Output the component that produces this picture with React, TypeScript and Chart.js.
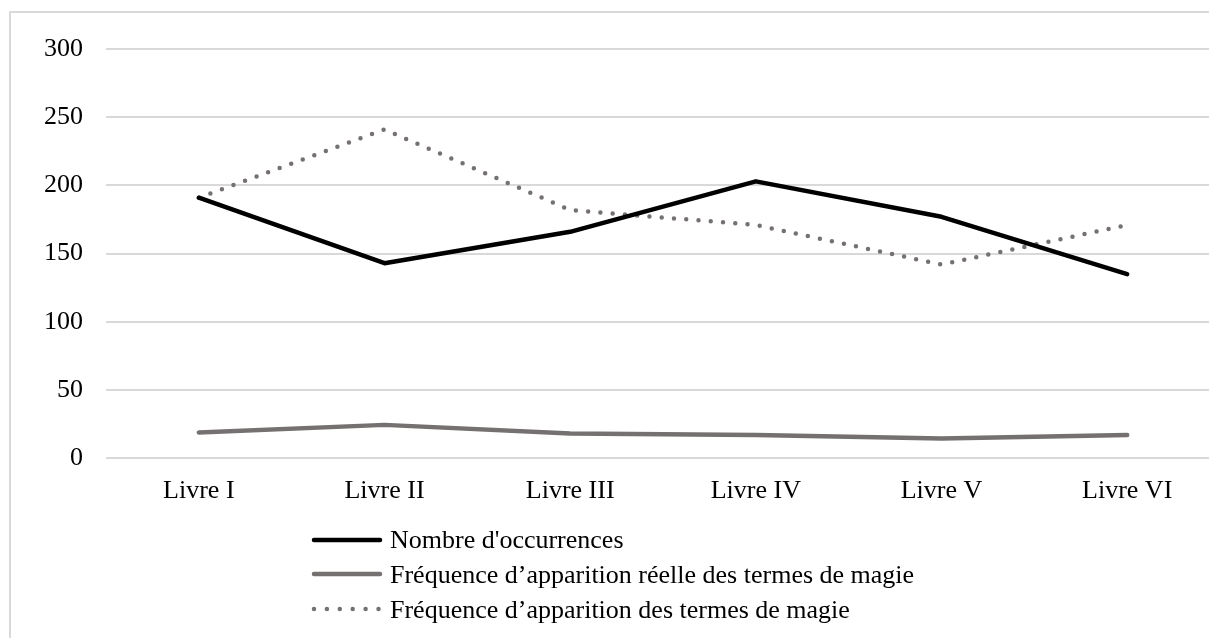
import React, { useEffect, useRef } from "react";
import { Chart, registerables } from "chart.js";

Chart.register(...registerables);

const categories = ["Livre I", "Livre II", "Livre III", "Livre IV", "Livre V", "Livre VI"];
const nombreOccurrences = [191, 143, 166, 203, 177, 135];
const frequenceReelle = [19, 24.5, 18.2, 17, 14.5, 17];
const frequenceApparition = [191, 241, 182, 171, 142, 171];
const seriesLabels = [
  "Nombre d'occurrences",
  "Fréquence d’apparition réelle des termes de magie",
  "Fréquence d’apparition des termes de magie",
];
const yTicks = [0, 50, 100, 150, 200, 250, 300];

const FONT = "'Liberation Serif', 'Times New Roman', serif";
const BLACK = "#000000";
const GRAY = "#767171";

export default function App() {
  const canvasRef = useRef<HTMLCanvasElement | null>(null);

  useEffect(() => {
    const canvas = canvasRef.current;
    if (!canvas) return;
    const chart = new Chart(canvas, {
      type: "line",
      data: {
        labels: categories,
        datasets: [
          {
            label: seriesLabels[0],
            data: nombreOccurrences,
            borderColor: BLACK,
            backgroundColor: BLACK,
            borderWidth: 4.5,
            pointRadius: 0,
            tension: 0,
            borderCapStyle: "round",
            borderJoinStyle: "round",
          },
          {
            label: seriesLabels[1],
            data: frequenceReelle,
            borderColor: GRAY,
            backgroundColor: GRAY,
            borderWidth: 4.5,
            pointRadius: 0,
            tension: 0,
            borderCapStyle: "round",
            borderJoinStyle: "round",
          },
          {
            label: seriesLabels[2],
            data: frequenceApparition,
            borderColor: GRAY,
            backgroundColor: GRAY,
            borderWidth: 4.5,
            pointRadius: 0,
            tension: 0,
            borderCapStyle: "round",
            borderJoinStyle: "round",
            borderDash: [0, 12.3],
          },
        ],
      },
      options: {
        animation: false,
        responsive: false,
        devicePixelRatio: 1,
        layout: { padding: { left: 0, top: 49, right: 10, bottom: 121.5 } },
        plugins: {
          legend: { display: false },
          tooltip: { enabled: false },
        },
        scales: {
          x: {
            type: "category",
            offset: true,
            grid: { display: false },
            border: { display: false },
            ticks: {
              color: BLACK,
              font: { family: FONT, size: 26 },
              padding: 9.5,
              maxRotation: 0,
              autoSkip: false,
            },
          },
          y: {
            min: yTicks[0],
            max: yTicks[yTicks.length - 1],
            afterBuildTicks: (scale: any) => {
              scale.ticks = yTicks.map((v) => ({ value: v }));
            },
            afterFit: (scale: any) => {
              scale.width = 106;
            },
            grid: { color: "#d9d9d9", lineWidth: 2, drawTicks: false },
            border: { display: false },
            ticks: {
              color: BLACK,
              font: { family: FONT, size: 26 },
              padding: 23,
            },
          },
        },
      },
    });
    return () => chart.destroy();
  }, []);

  const rowCenters = [540, 574.5, 609.5];
  const sampleStyles = [
    { color: BLACK, width: 4.5, dash: undefined as string | undefined },
    { color: GRAY, width: 4.5, dash: undefined as string | undefined },
    { color: GRAY, width: 4.5, dash: "0 12.9" },
  ];

  return (
    <div
      style={{
        position: "fixed",
        left: 0,
        top: 0,
        width: 1209,
        height: 638,
        overflow: "hidden",
        background: "#ffffff",
      }}
    >
      <div
        style={{
          position: "absolute",
          left: 9,
          top: 11,
          width: 1300,
          height: 700,
          border: "2px solid #d9d9d9",
          boxSizing: "border-box",
        }}
      />
      <canvas
        ref={canvasRef}
        width={1230}
        height={638}
        style={{ position: "absolute", left: 0, top: 0, width: 1230, height: 638 }}
      />
      {seriesLabels.map((label, i) => (
        <div
          key={label}
          style={{
            position: "absolute",
            left: 311,
            top: rowCenters[i] - 15.6,
            height: 31.2,
            display: "flex",
            alignItems: "center",
            whiteSpace: "nowrap",
          }}
        >
          <svg width={72} height={10} style={{ display: "block" }}>
            <line
              x1={3}
              y1={5}
              x2={sampleStyles[i].dash ? 68 : 69}
              y2={5}
              stroke={sampleStyles[i].color}
              strokeWidth={sampleStyles[i].width}
              strokeLinecap="round"
              strokeDasharray={sampleStyles[i].dash}
            />
          </svg>
          <span
            style={{
              marginLeft: 7,
              fontFamily: FONT,
              fontSize: 26,
              lineHeight: "31.2px",
              color: BLACK,
            }}
          >
            {label}
          </span>
        </div>
      ))}
    </div>
  );
}
